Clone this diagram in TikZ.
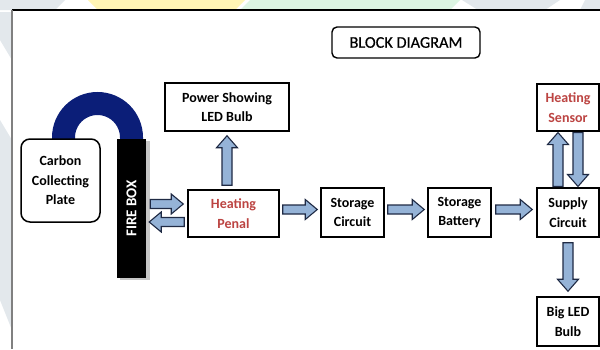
\documentclass[tikz,border=0pt]{standalone}
\usepackage{fontspec}
\setmainfont{Carlito}
\usetikzlibrary{calc}
\definecolor{arrfill}{HTML}{95B3D7}
\definecolor{arrline}{HTML}{1F2A44}
\definecolor{redtxt}{HTML}{BC4442}
\definecolor{navyarch}{HTML}{0B1E78}
\definecolor{wmgrey}{HTML}{E3E8EC}
\definecolor{wmyellow}{HTML}{FFF5B5}
\definecolor{wmgreen}{HTML}{DDF5E3}
\tikzset{
  blk/.style={draw=black, line width=1.5pt, fill=white, align=center,
    font=\bfseries\fontsize{14}{19.5}\selectfont, inner sep=1pt},
  fatbase/.style={draw=arrline, fill=arrfill, line width=1.1pt, line join=miter},
  rfat/.style={fatbase, to path={let \p1=(\tikztostart), \p2=(\tikztotarget) in
     (\x1+#1,\y1-4.5pt) -- (\x2-#1-12pt,\y1-4.5pt) -- (\x2-#1-12pt,\y1-10pt) -- (\x2-#1,\y1)
     -- (\x2-#1-12pt,\y1+10pt) -- (\x2-#1-12pt,\y1+4.5pt) -- (\x1+#1,\y1+4.5pt) -- cycle}},
  rfat/.default=3pt,
  lfat/.style={fatbase, to path={let \p1=(\tikztostart), \p2=(\tikztotarget) in
     (\x1-#1,\y1-4.5pt) -- (\x2+#1+12pt,\y1-4.5pt) -- (\x2+#1+12pt,\y1-10pt) -- (\x2+#1,\y1)
     -- (\x2+#1+12pt,\y1+10pt) -- (\x2+#1+12pt,\y1+4.5pt) -- (\x1-#1,\y1+4.5pt) -- cycle}},
  lfat/.default=3pt,
  ufat/.style={fatbase, to path={let \p1=(\tikztostart), \p2=(\tikztotarget) in
     (\x1-5pt,\y1+#1) -- (\x1-5pt,\y2-#1-12pt) -- (\x1-10.5pt,\y2-#1-12pt) -- (\x1,\y2-#1)
     -- (\x1+10.5pt,\y2-#1-12pt) -- (\x1+5pt,\y2-#1-12pt) -- (\x1+5pt,\y1+#1) -- cycle}},
  ufat/.default=3pt,
  dfat/.style={fatbase, to path={let \p1=(\tikztostart), \p2=(\tikztotarget) in
     (\x1-5pt,\y1-#1) -- (\x1-5pt,\y2+#1+12pt) -- (\x1-10.5pt,\y2+#1+12pt) -- (\x1,\y2+#1)
     -- (\x1+10.5pt,\y2+#1+12pt) -- (\x1+5pt,\y2+#1+12pt) -- (\x1+5pt,\y1-#1) -- cycle}},
  dfat/.default=3pt,
}
\begin{document}
\begin{tikzpicture}[x=1pt,y=-1pt]
\useasboundingbox (0,0) rectangle (600,349);
\fill[white] (0,0) rectangle (600,349);
% faint watermark
\fill[wmgrey] (0,0) -- (65,0) -- (55,10) -- (0,10) -- cycle;
\fill[wmyellow] (88,0) -- (245,0) -- (235,10) -- (98,10) -- cycle;
\fill[wmgreen] (250,0) -- (460,0) -- (450,10) -- (240,10) -- cycle;
\fill[wmgrey] (462,0) -- (560,0) -- (545,10) -- (478,10) -- cycle;
\fill[wmgrey] (585,0) -- (600,0) -- (600,10) -- (580,10) -- cycle;
\fill[wmgrey] (0,12) -- (12,12) -- (12,60) -- (0,40) -- cycle;
\fill[wmgrey] (0,120) -- (12,140) -- (12,330) -- (0,300) -- cycle;
% frame
\draw[black, line width=1.2pt] (12,10) -- (600,10);
\draw[gray, line width=1.6pt] (12,10) -- (12,349);
% title
\node[draw=black, line width=1.4pt, rounded corners=5pt, minimum width=148pt, minimum height=31pt,
  font=\fontsize{16.3}{19}\selectfont, inner sep=1pt] (title) at (406,42.5) {\addfontfeature{FakeBold=0.6}BLOCK DIAGRAM};
% arch
\draw[navyarch, line width=23pt] (63.5,150) -- (63.5,137.5) arc[start angle=180, end angle=0, radius=34pt] -- (131.5,150);
% carbon plate
\node[blk, rounded corners=9pt, minimum width=79pt, minimum height=83pt] (cp) at (60.5,180.5) {Carbon\\Collecting\\Plate};
% fire box
\fill[gray!45] (120,141) rectangle (149.5,280);
\node[fill=black, minimum width=29pt, minimum height=139pt, inner sep=0pt] (fb) at (131.5,208.5) {};
\node[rotate=90, text=white, font=\bfseries\fontsize{15}{17}\selectfont] (fbt) at (fb.center) {FIRE BOX};
% blocks
\node[blk, minimum width=124pt, minimum height=48pt] (pw) at (227,107) {Power Showing\\LED Bulb};
\node[blk, minimum width=91pt, minimum height=47pt, text=redtxt] (hp) at (233.5,213.5) {Heating\\Penal};
\node[blk, minimum width=63pt, minimum height=49pt] (sc) at (352.5,212.5) {Storage\\Circuit};
\node[blk, minimum width=63pt, minimum height=49pt] (sb) at (459.5,212.5) {Storage\\Battery};
\node[blk, minimum width=62pt, minimum height=49pt] (sup) at (568,212.5) {Supply\\Circuit};
\node[blk, minimum width=62pt, minimum height=47pt, text=redtxt] (hs) at (568,107.5) {Heating\\Sensor};
\node[blk, minimum width=62pt, minimum height=49pt] (bl) at (568,321.5) {Big LED\\Bulb};
% arrows
\draw[rfat=4pt] (fb.east |- 0,204) to (hp.west |- 0,204);
\draw[lfat=3pt] (hp.west |- 0,222) to (fb.east |- 0,222);
\draw[ufat=4pt] (hp.north -| pw.south) to (pw.south);
\draw[rfat] (hp.east |- 0,209.5) to (sc.west |- 0,209.5);
\draw[rfat] (sc.east |- 0,209.5) to (sb.west |- 0,209.5);
\draw[rfat=4pt] (sb.east |- 0,209.5) to (sup.west |- 0,209.5);
\draw[ufat=0.8pt] ($(sup.north)+(-10,0)$) to ($(hs.south)+(-10,0)$);
\draw[dfat=0.8pt] ($(hs.south)+(10,0)$) to ($(sup.north)+(10,0)$);
\draw[dfat=5pt] (sup.south) to (bl.north);
\end{tikzpicture}
\end{document}
